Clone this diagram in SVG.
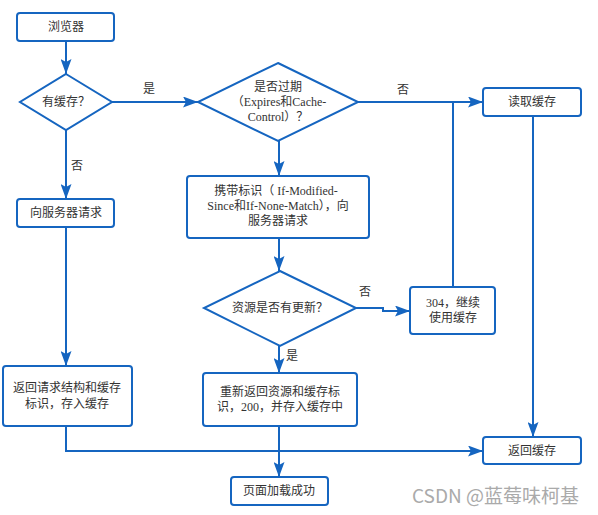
<svg xmlns="http://www.w3.org/2000/svg" width="598" height="515" viewBox="0 0 598 515">
<defs>
<marker id="arr" markerWidth="15" markerHeight="11" refX="15" refY="5.5" orient="auto" markerUnits="userSpaceOnUse">
<path d="M0,0 L15,5.5 L0,11 L3,5.5 Z" fill="#1565c0"/>
</marker>
</defs>
<style>
.box{fill:#fff;stroke:#1565c0;stroke-width:2}
.ln{fill:none;stroke:#1565c0;stroke-width:2}
.t{font-family:"Liberation Serif","Noto Sans CJK SC",serif;font-size:12px;fill:#333;text-anchor:middle}
.wm{font-family:"Noto Sans CJK SC","Liberation Sans",sans-serif;font-size:19px;fill:#aaa;text-anchor:start}
</style>
<rect width="598" height="515" fill="#fff"/>
<g id="connectors">
<path class="ln" d="M66,41 V74" marker-end="url(#arr)"/>
<path class="ln" d="M112,102 H198" marker-end="url(#arr)"/>
<path class="ln" d="M66,130 V199" marker-end="url(#arr)"/>
<path class="ln" d="M66,227 V366" marker-end="url(#arr)"/>
<path class="ln" d="M358,102 H483" marker-end="url(#arr)"/>
<path class="ln" d="M279,140 V176" marker-end="url(#arr)"/>
<path class="ln" d="M279,238 V271" marker-end="url(#arr)"/>
<path class="ln" d="M356,308 H383 V311 H410" marker-end="url(#arr)"/>
<path class="ln" d="M453,287 V102"/>
<path class="ln" d="M533,116 V437" marker-end="url(#arr)"/>
<path class="ln" d="M279,346 V373" marker-end="url(#arr)"/>
<path class="ln" d="M279,426 V477" marker-end="url(#arr)"/>
<path class="ln" d="M66,426 V451 H483" marker-end="url(#arr)"/>
<text class="t" x="149" y="93">是</text>
<text class="t" x="403" y="94">否</text>
<text class="t" x="77" y="170">否</text>
<text class="t" x="365" y="296">否</text>
<text class="t" x="292" y="360">是</text>
</g>
<g id="browser">
<rect class="box" x="17" y="13" width="97" height="28" rx="3"/>
<text class="t" x="66" y="31">浏览器</text>
</g>
<g id="hasCache">
<polygon class="box" points="66,74 112,102 66,130 20,102"/>
<text class="t" x="66" y="106">有缓存？</text>
</g>
<g id="expired">
<polygon class="box" points="278,63 358,102 278,141 198,102"/>
<text class="t" x="278" y="91">是否过期</text>
<text class="t" x="279" y="106">（Expires和Cache-</text>
<text class="t" x="278" y="121">Control）？</text>
</g>
<g id="readCache">
<rect class="box" x="483" y="88" width="98" height="28" rx="3"/>
<text class="t" x="532" y="106">读取缓存</text>
</g>
<g id="request">
<rect class="box" x="17" y="199" width="97" height="28" rx="3"/>
<text class="t" x="66" y="217">向服务器请求</text>
</g>
<g id="carry">
<rect class="box" x="187" y="176" width="182" height="62" rx="3"/>
<text class="t" x="276" y="195">携带标识（ If-Modified-</text>
<text class="t" x="278" y="210">Since和If-None-Match），向</text>
<text class="t" x="278" y="225">服务器请求</text>
</g>
<g id="updated">
<polygon class="box" points="280,271 356,308 280,346 204,308"/>
<text class="t" x="280" y="312">资源是否有更新？</text>
</g>
<g id="use304">
<rect class="box" x="410" y="287" width="85" height="47" rx="3"/>
<text class="t" x="453" y="307">304，继续</text>
<text class="t" x="453" y="322">使用缓存</text>
</g>
<g id="returnStore">
<rect class="box" x="3" y="366" width="129" height="60" rx="3"/>
<text class="t" x="67" y="392">返回请求结构和缓存</text>
<text class="t" x="67" y="408">标识，存入缓存</text>
</g>
<g id="reReturn">
<rect class="box" x="203" y="373" width="154" height="53" rx="3"/>
<text class="t" x="280" y="396">重新返回资源和缓存标</text>
<text class="t" x="280" y="411">识，200，并存入缓存中</text>
</g>
<g id="returnCache">
<rect class="box" x="483" y="437" width="98" height="27" rx="3"/>
<text class="t" x="532" y="455">返回缓存</text>
</g>
<g id="loaded">
<rect class="box" x="231" y="477" width="97" height="28" rx="3"/>
<text class="t" x="279" y="495">页面加载成功</text>
</g>
<text class="wm" x="412" y="503">CSDN @蓝莓味柯基</text>
</svg>
